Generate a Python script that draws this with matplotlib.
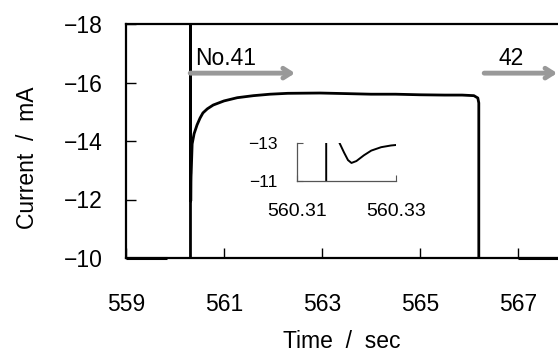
import matplotlib
matplotlib.use("Agg")
import matplotlib.pyplot as plt
import numpy as np

plt.rcParams['font.family'] = ['Liberation Sans', 'DejaVu Sans']

# ---- data ----
base1_t = [559.0, 559.84]
base1_i = [-10.0, -10.0]

main_t = [560.3159, 560.3159, 560.3185, 560.3195, 560.3203, 560.321, 560.322,
          560.3235, 560.325, 560.327, 560.329, 560.3302, 560.35, 560.39, 560.45,
          560.51, 560.57, 560.66, 560.78, 561.0, 561.27, 561.6, 561.94, 562.3,
          562.96, 563.5, 564.0, 564.5, 565.0, 565.5, 565.86, 566.1, 566.18,
          566.2, 566.2]
main_i = [-10.0, -18.2, -13.05, -12.5, -12.1, -11.95, -12.05,
          -12.35, -12.6, -12.78, -12.87, -12.9, -13.9, -14.25, -14.55,
          -14.78, -14.96, -15.1, -15.23, -15.37, -15.48, -15.55, -15.6, -15.63,
          -15.64, -15.62, -15.6, -15.6, -15.58, -15.57, -15.57, -15.55, -15.47,
          -15.3, -10.0]

base2_t = [567.0, 568.0]
base2_i = [-10.0, -10.0]

arrow_labels = ["No.41", "42"]
arrow_start = [560.31, 566.31]
arrow_end = [562.45, 567.8]
arrow_y = -16.32
label_x = [560.42, 566.6]

xticks = [559, 561, 563, 565, 567]
yticks = [-10, -12, -14, -16, -18]
inset_xticks = [560.31, 560.33]
inset_yticks = [-11, -13]

# ---- figure ----
fig = plt.figure(figsize=(5.58, 3.52), dpi=100)
W, H = 558, 352
ax = fig.add_axes([126 / W, (H - 258) / H, 441 / W, 234 / H])

ax.plot(base1_t, base1_i, color='black', lw=2.2, solid_capstyle='butt', clip_on=False)
ax.plot(main_t, main_i, color='black', lw=2.0, solid_joinstyle='round')
ax.plot(base2_t, base2_i, color='black', lw=2.2, solid_capstyle='butt', clip_on=False)

ax.set_xlim(559, 568)
ax.set_ylim(-10, -18)
ax.set_xticks(xticks)
ax.set_yticks(yticks)
ax.set_xticklabels([str(v) for v in xticks])
ax.set_yticklabels(["\u2212" + str(abs(v)) for v in yticks])
ax.tick_params(direction='in', length=7, width=1.0, labelsize=16.5)
ax.tick_params(axis='x', pad=25)
ax.tick_params(axis='y', pad=17)
for s in ['left', 'bottom', 'top']:
    ax.spines[s].set_linewidth(1.6)
ax.spines['right'].set_visible(False)

for lab, x0, x1, lx in zip(arrow_labels, arrow_start, arrow_end, label_x):
    ax.annotate('', xy=(x1, arrow_y), xytext=(x0, arrow_y),
                arrowprops=dict(arrowstyle='->, head_length=0.55, head_width=0.35',
                                color='#999999', lw=3.5, shrinkA=0, shrinkB=0))
    ax.text(lx, arrow_y - 0.12, lab, fontsize=16.5, ha='left', va='bottom')

ax.set_xlabel("Time  /  sec", fontsize=16.5)
ax.xaxis.set_label_coords((342 - 126) / 441, -(342 - 258) / 234)
ax.xaxis.label.set_va('center')
ax.set_ylabel("Current  /  mA", fontsize=16.5)
ax.yaxis.set_label_coords(-(126 - 28) / 441, (258 - 158) / 234)
ax.yaxis.label.set_va('center')

# ---- inset ----
ins = fig.add_axes([297 / W, (H - 181) / H, 99 / W, 38 / H])
ins.plot(main_t, main_i, color='black', lw=1.4)
ins.set_xlim(560.31, 560.33)
ins.set_ylim(-11, -13)
ins.set_xticks(inset_xticks)
ins.set_yticks(inset_yticks)
ins.set_xticklabels(["560.31", "560.33"])
ins.set_yticklabels(["\u221211", "\u221213"])
ins.tick_params(direction='in', length=4, width=0.8, color='#555555')
ins.tick_params(axis='x', labelsize=14, pad=16)
ins.tick_params(axis='y', labelsize=12.5, pad=14)
for s in ['top', 'right']:
    ins.spines[s].set_visible(False)
for s in ['left', 'bottom']:
    ins.spines[s].set_linewidth(0.9)
    ins.spines[s].set_color('#555555')
ins.patch.set_alpha(0)

fig.savefig("out.png", dpi=100)
